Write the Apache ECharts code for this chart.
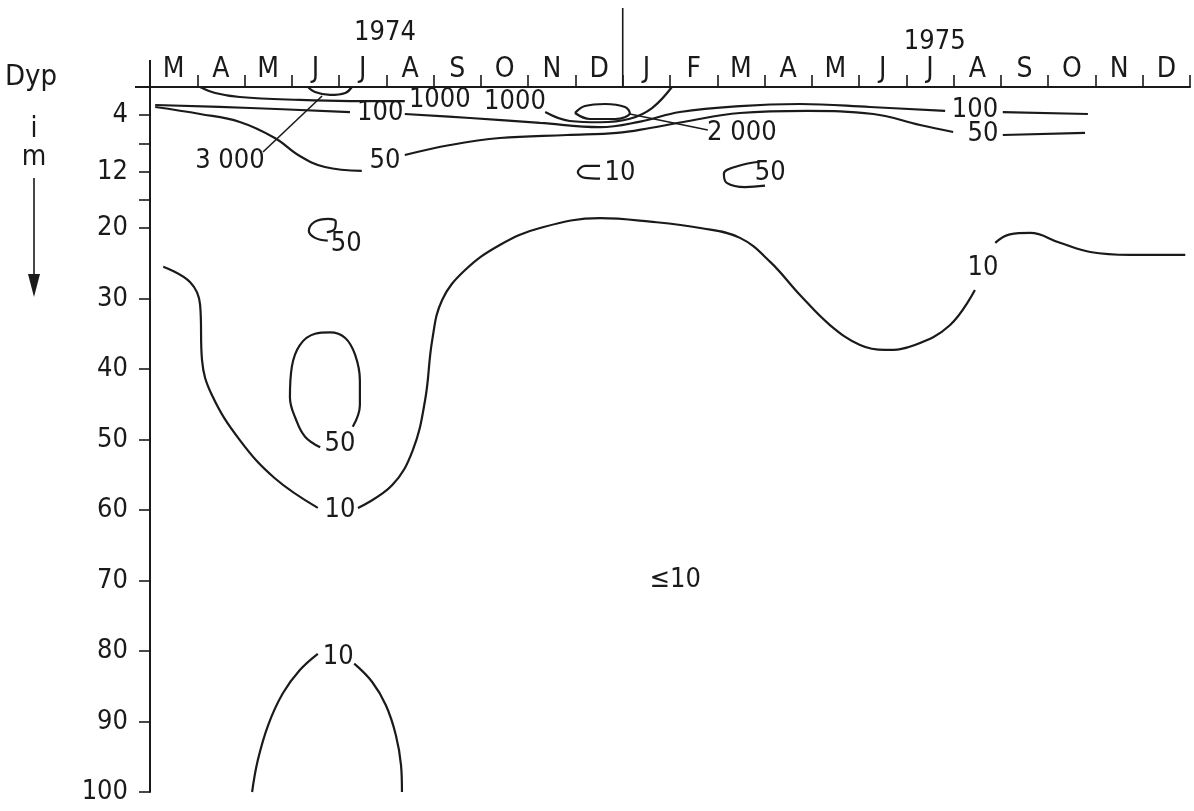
<!DOCTYPE html>
<html>
<head>
<meta charset="utf-8">
<script src="https://cdn.jsdelivr.net/npm/echarts@6/dist/echarts.min.js"></script>
<style>
  html, body { margin: 0; padding: 0; background: #fff; }
  #chart { width: 1194px; height: 811px; }
</style>
</head>
<body>
<div id="chart"></div>
<script>
// months along the top, Mar 1974 .. Dec 1975
const months = ['M','A','M','J','J','A','S','O','N','D','J','F','M','A','M','J','J','A','S','O','N','D']
const yearLabels = [{ text: '1974', at: 4.97, y: 33 }, { text: '1975', at: 16.6, y: 42 }]
const depthTicks = [4, 8, 12, 16, 20, 30, 40, 50, 60, 70, 80, 90, 100]
const depthLabels = [4, 12, 20, 30, 40, 50, 60, 70, 80, 90, 100]

// contour lines, [month, depth]
const c10Main = [[0.28,25.5],[0.85,27.7],[1.06,30.9],[1.10,38.7],[1.31,43.7],[1.90,50.1],[2.64,55.5],[3.55,59.7]]
const c10Main2 = [[4.40,59.7],[5.12,56.5],[5.56,51.5],[5.82,44.4],[5.97,35.9],[6.18,30.2],[6.66,26.0],[7.40,22.4],
  [8.25,20.0],[9.52,18.6],[10.58,19.1],[11.64,20.0],[12.48,21.4],[13.12,24.8],[13.75,29.5],[14.39,33.8],
  [15.02,36.6],[15.55,37.3],[16.18,36.6],[16.92,33.8],[17.45,28.8]]
const c10Main3 = [[17.88,22.1],[18.19,20.9],[18.62,20.7],[19.25,22.1],[19.89,23.4],[20.73,23.8],[21.90,23.8]]
const c10Deep1 = [[2.16,100],[2.28,95.5],[2.50,90.5],[2.81,86.0],[3.17,82.7],[3.55,80.4]]
const c10Deep2 = [[4.32,81.8],[4.70,84.4],[4.99,87.7],[5.20,91.9],[5.31,96.2],[5.33,100]]
const c50Loop = [[3.60,51.1],[3.28,49.6],[3.09,47.2],[2.96,44.0],[3.00,39.7],[3.17,36.6],[3.49,35.0],[3.81,34.8],
  [4.13,35.6],[4.34,38.0],[4.44,41.6],[4.44,45.1],[4.29,48.2]]
const c50Curl = [[3.76,21.8],[3.49,21.4],[3.36,20.4],[3.49,19.1],[3.77,18.7],[3.93,19.1],[3.91,20.1],[3.74,20.6]]
const c10Small = [[9.52,11.2],[9.20,11.2],[9.05,12.1],[9.20,12.9],[9.52,13.0]]
const c50Small = [[12.90,10.6],[12.44,11.2],[12.14,12.3],[12.20,13.6],[12.59,14.2],[13.01,14.0]]
const c1000a = [[1.06,0],[1.38,0.85],[1.90,1.42],[3.17,1.84],[4.23,1.99],[5.39,1.99]]
const c1000b = [[8.36,3.55],[8.88,4.82],[9.52,5.0],[10.15,4.5],[10.62,2.98],[11.04,0]]
const c2000Loop = [[8.99,3.69],[9.20,2.70],[9.63,2.41],[10.05,2.84],[10.15,3.69],[9.84,4.54],[9.31,4.54],[8.99,3.69]]
const c3000 = [[3.34,0],[3.49,0.71],[3.81,1.13],[4.13,0.85],[4.27,0]]
const c100a = [[0.11,2.55],[2.12,2.98],[4.23,3.55]]
const c100b = [[5.39,3.83],[6.77,4.40],[8.25,5.1],[9.52,5.7],[10.37,4.9],[11.21,3.55],[12.48,2.70],[13.75,2.41],
  [15.23,2.84],[16.82,3.40]]
const c100c = [[18.04,3.55],[19.84,3.83]]
const c50a = [[0.11,2.84],[1.06,3.83],[1.90,4.96],[2.64,7.23],[3.17,9.79],[3.70,11.35],[4.48,11.9]]
const c50b = [[5.39,9.65],[6.35,8.23],[7.40,7.23],[8.82,6.81],[9.88,6.52],[10.58,5.82],[11.28,4.96],[12.48,3.69],
  [13.90,3.40],[15.30,3.83],[16.29,5.39],[16.99,6.38]]
const c50c = [[18.04,6.81],[19.78,6.52]]
const leader3000 = [[3.64,1.28],[2.39,9.22]]
const leader2000 = [[10.15,3.83],[11.80,6.10]]

// contour value labels [month, depth, text]
const contourLabels = [
  [4.02,60.0,'10'],[3.98,80.9,'10'],[17.62,25.7,'10'],[4.02,50.6,'50'],[4.15,22.2,'50'],
  [9.94,12.2,'10'],[13.12,12.2,'50'],[6.13,1.9,'1000'],[7.72,2.1,'1000'],[12.52,6.52,'2 000'],
  [1.69,10.5,'3 000'],[4.87,3.69,'100'],[17.45,3.26,'100'],[4.97,10.5,'50'],[17.62,6.67,'50'],
  [11.11,69.9,'≤10']
]

const FONT = "'DejaVu Sans Condensed', 'Liberation Sans Narrow', Roboto, sans-serif"
const INK = '#1a1a1a'
const FS = 27

const lines = [c10Main, c10Main2, c10Main3, c10Deep1, c10Deep2, c50Loop, c50Curl, c10Small, c50Small,
  c1000a, c1000b, c2000Loop, c3000, c100a, c100b, c100c, c50a, c50b, c50c]
const series = lines.map(d => ({
  type: 'line', data: d, smooth: 0.4, symbol: 'none', clip: false,
  lineStyle: { color: INK, width: 2.2 }
}))
;[leader3000, leader2000].forEach(d => series.push({
  type: 'line', data: d, symbol: 'none', clip: false, lineStyle: { color: INK, width: 1.6 }
}))
series.push({
  type: 'scatter', data: contourLabels, symbolSize: 0, clip: false,
  itemStyle: { opacity: 1 },
  label: {
    show: true, position: 'inside', formatter: p => p.value[2],
    fontFamily: FONT, fontSize: FS, color: INK
  }
})

const chart = echarts.init(document.getElementById('chart'))
chart.setOption({
  animation: false,
  backgroundColor: '#fff',
  grid: { left: 150, right: 4, top: 87, bottom: 19 },
  xAxis: [
    { type: 'value', min: 0, max: 22, position: 'top', show: false },
    {
      type: 'category', data: months, position: 'top', boundaryGap: true,
      axisLine: { lineStyle: { color: INK, width: 2 } },
      axisTick: { show: true, interval: 0, length: 12, lineStyle: { color: INK, width: 1.6 } },
      axisLabel: { interval: 0, margin: 3, fontFamily: FONT, fontSize: 28, color: INK },
      splitLine: { show: false }
    }
  ],
  yAxis: {
    type: 'value', inverse: true, min: 0, max: 100,
    axisLine: { show: true, lineStyle: { color: INK, width: 2 } },
    axisTick: { show: true, customValues: depthTicks, length: 11, lineStyle: { color: INK, width: 1.6 } },
    axisLabel: { customValues: depthLabels, margin: 22, fontFamily: FONT, fontSize: FS, color: INK },
    splitLine: { show: false }
  },
  series
})

// decorations outside the grid: year divider, year names, axis label "Dyp i m"
const px = (m, d) => chart.convertToPixel({ xAxisIndex: 0, yAxisIndex: 0 }, [m, d])
const origin = px(0, 0)
const divider = px(10, 0)
const txt = (text, x, y, size) => ({ type: 'text', x, y,
  style: { text, fontFamily: FONT, fontSize: size, fill: INK, align: 'center', verticalAlign: 'middle' } })
const graphic = [
  { type: 'line', shape: { x1: origin[0], y1: origin[1], x2: origin[0], y2: 60 }, style: { stroke: INK, lineWidth: 2 } },
  { type: 'line', shape: { x1: 135, y1: origin[1], x2: origin[0], y2: origin[1] }, style: { stroke: INK, lineWidth: 2 } },
  { type: 'line', shape: { x1: divider[0], y1: divider[1], x2: divider[0], y2: 8 }, style: { stroke: INK, lineWidth: 1.6 } },
  txt('Dyp', 31, 77, 29),
  txt('i', 34, 130, 28),
  txt('m', 34, 158, 28),
  { type: 'line', shape: { x1: 34, y1: 178, x2: 34, y2: 285 }, style: { stroke: INK, lineWidth: 1.6 } },
  { type: 'polygon', shape: { points: [[28, 274], [40, 274], [34, 297]] }, style: { fill: INK } }
]
yearLabels.forEach(y => graphic.push(txt(y.text, px(y.at, 0)[0], y.y, FS)))
chart.setOption({ graphic })
</script>
</body>
</html>
